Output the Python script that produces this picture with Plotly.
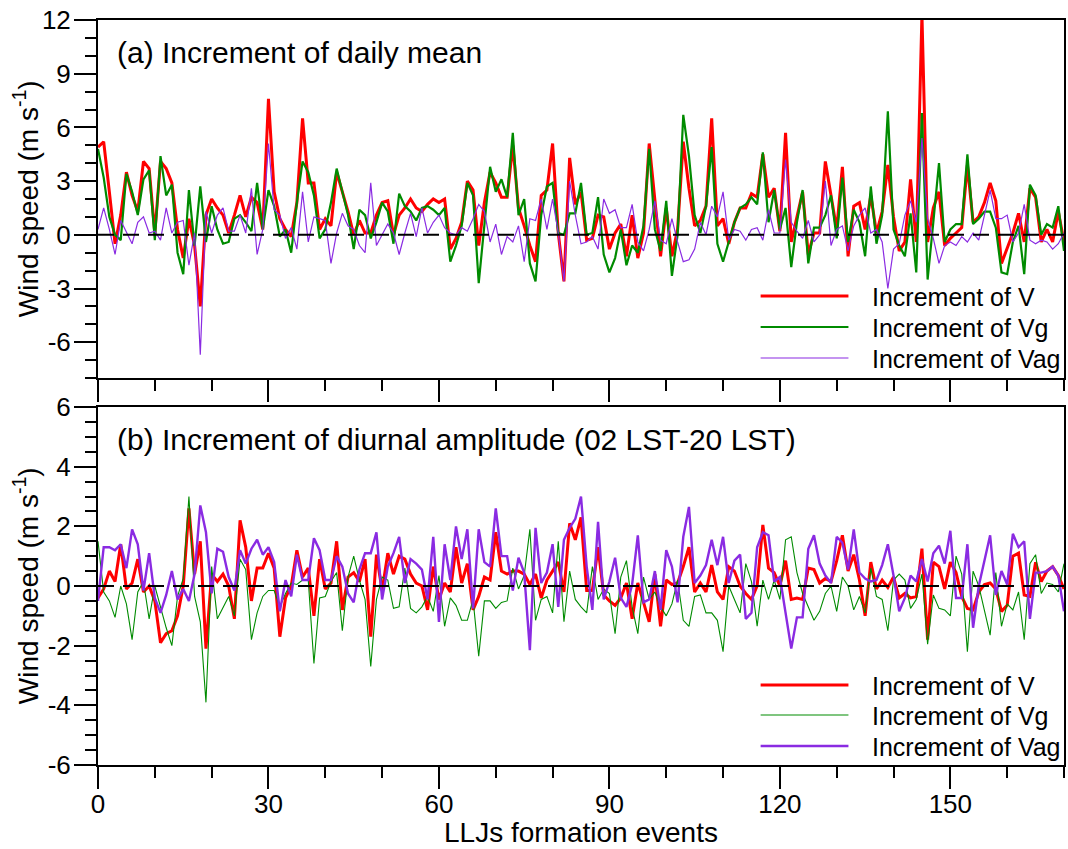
import plotly.graph_objects as go

# ---------------- data ----------------
events = list(range(171))

# (a) increment of daily mean
mean_V = [4.9, 5.2, 2.4, -0.5, 1.1, 3.5, 2.2, 1.3, 4.1, 3.7,
          0.1, 4.1, 3.7, 2.9, 0.3, -1.3, 0.9, -0.6, -4.0, 1.1,
          2.0, 1.5, 1.1, 0.1, 1.1, 2.2, 1.0, 2.1, 1.8, 0.3,
          7.6, 2.4, 0.9, 0.3, -0.1, 1.8, 6.5, 2.9, 2.9, 0.3,
          0.9, 0.5, 3.5, 2.4,
          1.3, 0.0, 0.8, 0.1, 0.1, 1.1, 1.8, 1.9, 0.0, 1.1,
          1.5, 2.0, 1.5, 1.3, 1.7, 2.0, 1.8, 2.0, -0.8, -0.2,
          0.7, 3.0, 2.5, -0.6, 1.8, 3.5, 2.9, 2.1, 2.1, 5.0,
          1.5, 0.5, -0.6, -1.5, 2.2, 2.5, 5.1, 0.1, -2.6, 4.3,
          1.7,
          2.4, -0.3, -0.2, 1.1, 1.0, -0.8, 0.1, 0.6, -1.2, 1.1,
          -1.3, 0.1, 5.1, 1.8, -1.2, 1.5, -1.2, 0.3, 5.2, 2.6,
          0.5, 0.8, 1.6, 6.5, 0.5, 0.9, -0.5, 0.7, 1.5, 1.5,
          2.3, 2.1, 4.5, 2.1, 2.6, 0.2, 5.7, -0.4, 1.1, 2.4,
          -1.1, 0.1,
          0.1, 4.1, 2.2, 0.3, 3.8, -1.2, 1.6, 1.8, 0.3, 2.2,
          0.1, 1.3, 3.9, 1.0, -0.9, -0.4, 3.1, -0.4, 12.3, -0.4,
          1.5, 2.4, -0.6, -0.2, 0.1, 0.4, 3.9, 0.7, 1.0, 1.8,
          2.9, 1.9, -1.6, -0.8, 0.1, 1.2, -0.4, 2.6, 2.1, -0.4,
          0.3, -0.4, 1.3, -0.4]

mean_Vg = [4.8, 3.2, 1.0, 0.0, -0.3, 3.4, 2.4, 1.1, 3.1, 3.6,
           -0.3, 4.4, 2.2, 2.8, -1.0, -2.2, 2.5, -0.6, 2.7, -0.4,
           1.6, 0.3, -0.5, -0.4, 0.9, 1.1, 0.7, 0.2, 2.9, 0.3,
           2.5, 1.6, -0.1, 0.3, -1.0, 1.8, 4.1, 3.5, 2.2, -0.2,
           0.3, 1.8, 3.7, 2.4,
           1.1, -0.8, 1.4, 1.1, -0.2, 0.7, 1.8, 1.3, -0.5, 2.3,
           1.6, 1.3, 0.8, 1.5, 1.6, 1.4, 1.1, 1.5, -1.5, -0.6,
           0.5, 2.9, 2.2, -2.7, 0.7, 3.8, 2.4, 3.1, 2.1, 5.7,
           1.1, 2.0, -1.6, -2.6, 1.1, 2.7, 2.9, 0.1, 0.0, 1.2,
           1.2,
           2.9, 0.0, 0.1, 2.1, -1.1, -2.1, -1.3, 0.3, -1.7, -0.6,
           -1.0, 0.5, 4.8, 0.3, -0.9, 1.9, -2.3, 0.0, 6.7, 4.4,
           1.1, 0.1, 1.6, 4.9, -0.5, -1.5, -0.4, 0.7, 1.5, 1.7,
           2.1, 1.7, 4.6, 0.7, 2.5, 0.3, 1.5, -1.8, 0.7, 2.5,
           -1.6, 0.4,
           0.4, 1.1, 2.2, -0.2, 3.2, -0.4, 1.4, 0.7, -1.2, 2.7,
           -0.5, 1.1, 6.9, 0.3, -0.6, -1.2, 1.2, -2.1, 6.8, -2.5,
           0.7, 4.0, -0.4, 0.3, 0.6, 0.6, 4.5, 0.6, 0.9, 1.3,
           1.3, 0.4, -2.1, -2.2, -0.4, 0.5, -2.2, 2.8, 2.2, 0.0,
           0.6, 0.4, 1.6, -0.9]

mean_Vag = [0.3, 1.5, 0.3, -1.1, 0.8, 0.1, -0.5, 0.7, 1.0, 0.1,
            0.2, -0.3, 1.5, 0.1, 0.7, 0.8, -1.7, 0.1, -6.7, 1.3,
            0.1, 1.1, 1.5, 0.2, 0.2, 1.1, 0.1, 2.6, -1.1, 0.3,
            5.1, 1.4, 1.1, -0.2, 0.4, -0.8, 2.4, -0.4, 1.0, 0.9,
            0.8, -1.6, 0.1, 1.2,
            0.5, 0.3, -0.6, -1.0, 2.9, -0.6, 0.0, 0.6, 0.1, -1.1,
            0.1, 1.2, -0.1, 1.5, 0.1, 0.7, 1.1, 0.4, 0.1, 0.0,
            0.4, 0.2, 0.9, 1.7, 1.3, -0.4, 0.6, -1.1, -0.1, -0.4,
            0.5, -1.5, 0.9, 0.8, 2.0, 0.3, 2.0, 0.1, -2.6, 3.0,
            1.1,
            -0.5, -0.4, -0.1, -0.8, 2.0, 1.2, 1.4, 0.4, 0.4, 1.7,
            -0.4, -0.9, 0.3, 1.9, -0.3, -0.5, 0.9, -0.4, -1.5, -1.4,
            -0.8, 0.7, 0.0, 1.6, 1.0, 2.4, -0.3, 0.3, 0.2, -0.3,
            0.3, 0.4, -0.3, 1.4, 0.1, 0.1, 4.2, 0.7, 0.2, -0.2,
            0.8, -0.4,
            0.0, 3.0, -0.6, 0.3, 0.5, -0.9, 0.5, 1.1, 1.5, 0.1,
            0.3, -0.4, -3.0, -0.8, -0.5, 1.1, 1.9, 0.7, 5.4, 0.9,
            -0.2, -1.6, -0.6, -0.4, -0.6, -0.1, -0.4, 0.1, -0.3, 1.1,
            2.5, 0.9, 0.9, 1.1, -0.4, 0.1, 1.7, -0.3, -0.5, -0.3,
            -0.4, -0.8, -0.5, 0.1]

# (b) increment of diurnal amplitude (02 LST - 20 LST)
amp_V = [-0.4, -0.1, 0.5, 0.15, 1.4, -0.1, 0.1, 0.9, -0.2, 0.0,
         -0.5, -1.9, -1.6, -1.5, -1.0, 0.0, 2.6, 0.4, 1.5, -2.1,
         0.4, 0.15, 0.4, 0.0, -1.1, 2.2, 1.3, -0.5, 0.6, 0.6,
         1.1, 0.6, -1.7, -0.4, 0.0, 1.2, 0.3, 0.6, -1.0, 0.9,
         -0.1, 0.1, 1.5, -0.8,
         0.3, 0.45, 0.15, 0.9, -1.7, 1.05, -0.15, 1.1, 0.4, 1.0,
         0.9, 0.4, 0.1, 0.0, -0.8, 0.65, -0.45, 0.1, -0.2, 1.3,
         0.1, 0.75, -0.8, -0.35, 0.3, 0.2, 1.8, 0.5, 0.4, 0.5,
         0.5, 0.4, 0.05, 0.4, -0.4, 0.2, 0.5, 0.8, -0.2, 2.1,
         1.55,
         2.3, -0.15, -0.15, 1.3, -0.3, -0.5, -0.65, -0.4, 0.1, -1.1,
         0.1, -0.55, -1.2, 0.4, -1.35, 0.2, 0.05, 0.1, 0.65, 1.3,
         -0.2, 0.1, -0.2, 0.7, -0.2, -0.45, 0.65, 0.5, 0.0, -0.25,
         -0.45, 0.0, 2.05, 0.6, 0.45, 0.0, 0.85, -0.45, -0.4, -0.45,
         0.6, 0.55,
         0.1, 0.25, 0.15, 0.85, 1.7, 0.5, 1.05, 0.2, -1.0, 0.8,
         -0.1, 0.2, -0.05, 0.3, -0.4, -0.25, -0.4, -0.35, 1.25, -1.8,
         0.8, 0.65, -0.1, 0.8, 0.45, -0.35, -0.75, -0.8, -0.2, 0.05,
         0.1, -0.1, -0.85, -0.65, 1.0, 1.1, -0.3, -0.35, 0.8, 0.15,
         0.5, 0.65, 0.35, -0.1]

amp_Vg = [1.5, -0.2, -0.5, -1.05, 0.0, -0.6, -1.8, -0.2, 0.15, -1.1,
          0.0, -0.7, -1.4, -2.0, -0.35, 0.25, 3.0, -0.35, -1.2, -3.9,
          0.65, -1.1, -0.75, -0.35, -1.0, 0.9, 0.55, -1.8, -0.9, -0.35,
          -0.15, -0.15, -0.7, -0.25, 0.1, 0.05, 0.2, 0.2, -2.6, -0.4,
          -0.35, 0.15, 0.45, -1.5,
          0.3, 1.0, 0.2, -0.45, -2.7, -0.45, 0.3, 0.2, -0.75, -0.7,
          0.6, -0.75, -0.9, -0.7, -0.35, -0.85, 0.35, -1.35, -0.4, -0.65,
          -1.15, -1.15, -0.45, -2.35, -0.5, -0.5, -0.75, -0.55, -0.5, 0.6,
          -0.1, 0.35, 1.9, -1.15, -0.45, -0.35, -0.9, 1.5, -1.2, 0.5,
          -0.45,
          -0.7, -0.9, 0.65, -0.45, -0.1, -0.25, -1.6, 0.3, 0.85, -0.7,
          -1.6, 0.3, -0.45, -0.2, -0.7, -1.0, -0.6, 0.2, -1.15, -1.35,
          -0.35, -0.3, -0.9, -0.9, -1.15, -2.2, 0.0, -0.45, -0.9, 0.75,
          0.15, -1.35, 0.2, -0.45, 0.2, -0.45, 1.55, 1.65, 0.45, -0.25,
          -0.7, -1.15,
          -0.85, -0.25, 0.0, -0.85, 0.3, 0.0, -0.8, -0.35, -0.9, 0.6,
          -0.35, -0.45, -1.5, 0.2, 0.4, 0.2, -0.75, -0.45, 0.4, -1.95,
          -0.3, -0.75, -0.8, -1.0, 1.0, 0.4, -2.2, 0.5, 0.0, -0.8,
          -1.65, 0.45, -1.35, -0.6, -0.8, -0.2, -1.8, 0.75, 1.05, -0.25,
          0.1, 0.05, -0.2, 0.75]

amp_Vag = [-0.5, 1.3, 1.3, 1.2, 1.4, 0.6, 1.9, 1.4, -0.15, 1.1,
           -0.4, -0.9, -0.3, 0.5, -0.45, -0.1, -0.5, 0.4, 2.7, 1.8,
           -0.25, 1.25, 1.15, 0.3, -0.15, 1.2, 0.75, 1.25, 1.55, 1.05,
           1.3, 0.8, -0.85, 0.2, -0.35, 1.05, 0.2, 0.2, 1.6, 1.2,
           0.2, 0.2, 1.0, 0.65,
           -0.25, -0.55, 0.55, 1.1, 1.1, 1.8, -0.45, 0.65, 1.1, 1.65,
           0.1, 0.9, 0.75, 0.55, -0.45, 1.65, -1.2, 1.4, 0.2, 2.0,
           0.9, 1.9, -0.75, 1.9, 0.8, 0.65, 2.6, 1.0, 1.0, -0.15,
           0.95, 0.45, -2.15, 1.95, 0.1, 0.45, 1.4, -0.7, 1.55, 1.95,
           2.25,
           3.0, 0.65, -0.8, 2.15, -0.45, 0.15, 0.95, -0.4, -0.7, 0.05,
           1.7, -0.55, -0.45, 0.5, -0.8, 1.2, 0.65, -0.55, 1.65, 2.65,
           0.1, 0.35, 0.7, 1.55, 0.7, 1.65, 0.1, 0.85, 1.05, -1.1,
           -0.9, 1.3, 1.8, 1.7, 0.15, 0.3, -0.9, -2.1, -1.05, -1.05,
           1.25, 1.7,
           0.75, 0.35, 0.1, 1.65, 1.45, 0.55, 1.9, 0.45, 0.25, 0.15,
           0.2, 0.7, 1.4, 0.35, -0.85, -0.4, 0.35, 0.15, 0.9, 0.15,
           1.1, 1.35, 0.75, 1.85, -0.4, -0.4, 1.4, -1.4, 0.0, 0.85,
           1.7, -0.3, 0.5, 0.05, 1.75, 1.3, 1.5, -1.1, 0.45, 0.45,
           0.5, 0.65, 0.35, -0.85]

x_tickvals = [0, 30, 60, 90, 120, 150]
x_ticktext = ["0", "30", "60", "90", "120", "150"]
ya_tickvals = [-6, -3, 0, 3, 6, 9, 12]
ya_ticktext = ["-6", "-3", "0", "3", "6", "9", "12"]
yb_tickvals = [-6, -4, -2, 0, 2, 4, 6]
yb_ticktext = ["-6", "-4", "-2", "0", "2", "4", "6"]

series_names = ["Increment of V", "Increment of Vg", "Increment of Vag"]
panel_a_title = "(a) Increment of daily mean"
panel_b_title = "(b) Increment of diurnal amplitude (02 LST-20 LST)"
y_title = "Wind speed (m s<sup>-1</sup>)"
x_title = "LLJs formation events"

# ---------------- style ----------------
RED = "#ff0000"
GREEN = "#008b00"
PURPLE = "#8a2be2"
FONT = "Liberation Sans"
widths_a = [3, 2.2, 1.2]
widths_b = [3, 1.1, 2.4]
colors = [RED, GREEN, PURPLE]

fig = go.Figure()
for ys, c, w in zip([mean_V, mean_Vg, mean_Vag], colors, widths_a):
    fig.add_trace(go.Scatter(x=events, y=ys, mode="lines", xaxis="x", yaxis="y",
                             line=dict(color=c, width=w), showlegend=False, hoverinfo="skip"))
for ys, c, w in zip([amp_V, amp_Vg, amp_Vag], colors, widths_b):
    fig.add_trace(go.Scatter(x=events, y=ys, mode="lines", xaxis="x2", yaxis="y2",
                             line=dict(color=c, width=w), showlegend=False, hoverinfo="skip"))

tickfont = dict(family=FONT, size=26, color="black")
common = dict(showline=True, linecolor="black", linewidth=2, mirror=True,
              ticks="outside", ticklen=22, tickwidth=1.6, tickcolor="black",
              showgrid=False, zeroline=False, tickfont=tickfont)

# plot area geometry (pixels)
W, H = 1068, 849
L, R, T, B = 98, 2, 20, 84
PW, PH = W - L - R, H - T - B
def py(p):  # pixel y -> paper
    return (H - B - p) / PH
def px(p):  # pixel x -> paper
    return (p - L) / PW

fig.update_layout(
    width=W, height=H,
    margin=dict(l=L, r=R, t=T, b=B),
    plot_bgcolor="white", paper_bgcolor="white",
    xaxis=dict(common, domain=[0, 1], anchor="y", range=[0, 170],
               tickvals=x_tickvals, ticktext=x_ticktext, showticklabels=False,
               minor=dict(ticks="outside", ticklen=11, tickwidth=1.6, tickcolor="black", dtick=10, tick0=0)),
    yaxis=dict(common, domain=[py(378), 1], anchor="x", range=[-8, 12],
               tickvals=ya_tickvals, ticktext=ya_ticktext, ticklabelstandoff=-2,
               minor=dict(ticks="outside", ticklen=11, tickwidth=1.6, tickcolor="black", dtick=1, tick0=0)),
    xaxis2=dict(common, domain=[0, 1], anchor="y2", range=[0, 170],
                tickvals=x_tickvals, ticktext=x_ticktext, ticklabelstandoff=-7,
                minor=dict(ticks="outside", ticklen=11, tickwidth=1.6, tickcolor="black", dtick=10, tick0=0)),
    yaxis2=dict(common, domain=[0, py(407)], anchor="x2", range=[-6, 6],
                tickvals=yb_tickvals, ticktext=yb_ticktext, ticklabelstandoff=-2,
                minor=dict(ticks="outside", ticklen=11, tickwidth=1.6, tickcolor="black", dtick=0.5, tick0=0)),
)

shapes = []
# dashed zero reference lines
for xr, yr in [("x domain", "y"), ("x2 domain", "y2")]:
    shapes.append(dict(type="line", xref=xr, yref=yr, x0=0, x1=1, y0=0, y1=0,
                       line=dict(color="black", width=2, dash="16px,9px"), layer="above"))

annotations = []
# manual legends
legend_rows = {"a": [296, 327, 358], "b": [685, 715, 746]}
for panel, widths in [("a", widths_a), ("b", widths_b)]:
    for name, c, w, ry in zip(series_names, colors, widths, legend_rows[panel]):
        shapes.append(dict(type="line", xref="paper", yref="paper",
                           x0=px(762), x1=px(850), y0=py(ry), y1=py(ry),
                           line=dict(color=c, width=w)))
        annotations.append(dict(text=name, xref="paper", yref="paper", x=px(872), y=py(ry + 1),
                                xanchor="left", yanchor="middle", showarrow=False,
                                font=dict(family=FONT, size=25, color="black")))

annotations += [
    dict(text=panel_a_title, xref="paper", yref="paper", x=px(115), y=py(52),
         xanchor="left", yanchor="middle", showarrow=False, font=dict(family=FONT, size=30, color="black")),
    dict(text=panel_b_title, xref="paper", yref="paper", x=px(115), y=py(439),
         xanchor="left", yanchor="middle", showarrow=False, font=dict(family=FONT, size=30, color="black")),
    dict(text=y_title, xref="paper", yref="paper", x=px(26), y=py(199), textangle=-90,
         xanchor="center", yanchor="middle", showarrow=False, font=dict(family=FONT, size=28, color="black")),
    dict(text=y_title, xref="paper", yref="paper", x=px(26), y=py(586), textangle=-90,
         xanchor="center", yanchor="middle", showarrow=False, font=dict(family=FONT, size=28, color="black")),
    dict(text=x_title, xref="paper", yref="paper", x=0.5, y=py(832),
         xanchor="center", yanchor="middle", showarrow=False, font=dict(family=FONT, size=28, color="black")),
]

fig.update_layout(shapes=shapes, annotations=annotations)
fig.write_html("out.html")
